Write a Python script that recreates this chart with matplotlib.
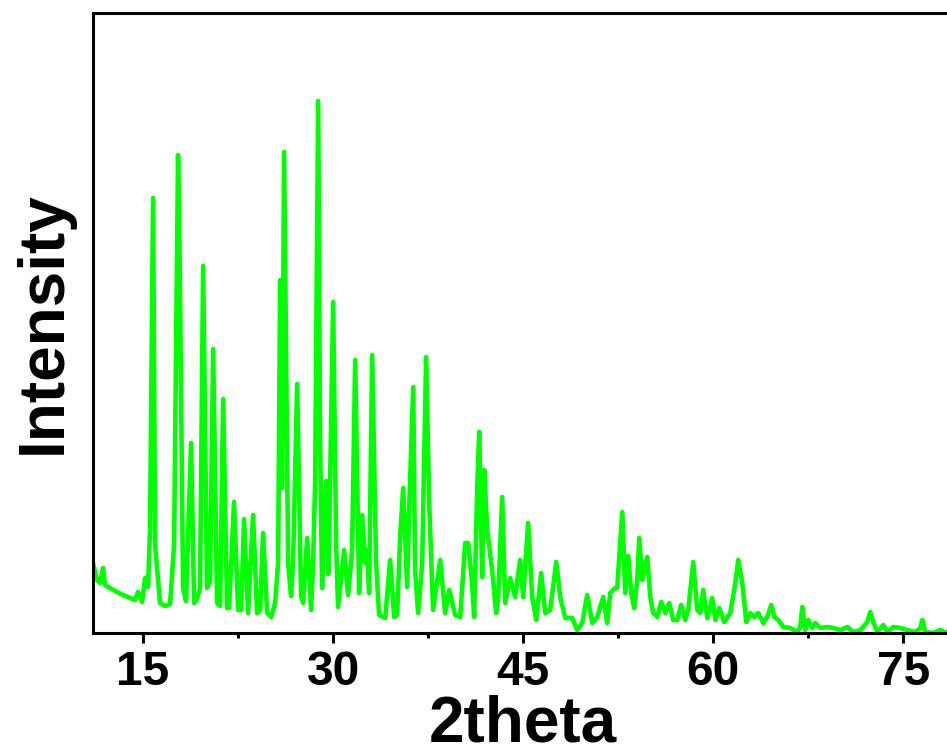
import matplotlib
matplotlib.use("Agg")
import matplotlib.pyplot as plt
from matplotlib.ticker import MultipleLocator

two_theta = [
    11.05, 11.37, 11.61, 11.84, 12.00, 12.39, 12.95, 13.42, 13.97, 14.37,
    14.61, 14.92, 15.16, 15.39,
    15.55, 15.79, 15.95, 16.34, 16.74, 17.13, 17.45, 17.61, 17.76,
    17.84, 18.16, 18.39, 18.79, 19.03, 19.26, 19.50, 19.74, 20.05, 20.29,
    20.53, 20.84, 21.08, 21.32, 21.63, 21.79, 22.18, 22.50, 22.74, 22.97,
    23.29, 23.68, 24.00, 24.24, 24.47, 24.79, 25.11, 25.42, 25.66, 25.82,
    25.97, 26.13, 26.37, 26.45, 26.68, 26.84, 27.16, 27.47, 27.63, 27.95,
    28.26, 28.42, 28.58, 28.82, 28.97, 29.13, 29.21, 29.45, 29.61, 29.68,
    30.00, 30.24, 30.39,
    30.87, 31.18, 31.50, 31.74, 32.05, 32.29, 32.53, 32.68, 32.84, 33.08,
    33.39, 33.63, 34.11, 34.50, 34.82, 35.05, 35.29, 35.53, 35.84, 36.00,
    36.32, 36.47, 36.71, 37.03, 37.34, 37.58, 37.89, 38.45, 38.84, 39.16,
    39.63, 40.03, 40.42, 40.66, 40.97, 41.13, 41.37, 41.53, 41.76, 41.92,
    42.16, 42.55, 42.87, 43.03, 43.34, 43.58, 43.97, 44.37, 44.76, 45.00,
    45.39, 45.71, 46.03, 46.42, 46.74, 47.13, 47.61, 47.92, 48.32, 48.87,
    49.26, 49.66, 50.05, 50.45, 50.84, 51.32, 51.63, 51.87, 52.26, 52.42,
    52.82, 53.05, 53.29,
    53.53, 53.76, 54.00, 54.16, 54.39, 54.79, 55.03, 55.26, 55.58, 55.89,
    56.21, 56.53, 56.84, 57.16, 57.47, 57.79, 58.03, 58.42, 58.74, 58.97,
    59.21, 59.53, 59.92, 60.16, 60.47, 60.87, 61.34, 61.74, 61.97, 62.29,
    62.61, 62.92, 63.24, 63.55, 63.95, 64.26, 64.58, 64.82, 65.13, 65.53,
    66.08, 66.63, 66.87, 67.03, 67.26, 67.50, 67.82, 68.05, 68.45, 69.00,
    69.47, 70.03, 70.58, 71.05, 71.61, 72.16, 72.39, 72.63, 72.95, 73.42,
    73.74, 74.21, 74.76, 75.32, 75.95, 76.34, 76.50, 76.74, 77.37, 77.92,
    78.47,
]
intensity = [
    70, 53, 50, 65, 48, 45, 41, 38, 35, 33,
    41, 31, 55, 46,
    102, 435, 88, 30, 27, 29, 88, 295, 478,
    429, 45, 32, 190, 30, 34, 45, 367, 45, 52,
    284, 30, 27, 234, 25, 25, 131, 23, 23, 114,
    20, 118, 20, 23, 100, 20, 16, 30, 70, 353,
    145, 481, 177, 70, 37, 70, 249, 37, 30, 95,
    23, 70, 150, 532, 195, 45, 88, 152, 59, 88,
    331, 88, 26,
    83, 38, 83, 273, 40, 118, 70, 83, 40, 278,
    70, 18, 15, 73, 16, 18, 96, 145, 46, 123,
    246, 63, 20, 70, 276, 130, 23, 73, 20, 43,
    18, 16, 90, 90, 50, 16, 143, 201, 56, 163,
    103, 63, 20, 36, 136, 30, 55, 36, 73, 36,
    110, 36, 13, 60, 20, 23, 71, 36, 15, 15,
    3, 10, 38, 10, 16, 36, 10, 40, 45, 45,
    121, 40, 77,
    40, 25, 53, 95, 53, 76, 36, 20, 16, 31,
    20, 30, 13, 13, 28, 13, 23, 71, 23, 20,
    43, 15, 35, 13, 25, 11, 20, 50, 73, 50,
    11, 20, 16, 20, 10, 16, 28, 16, 13, 6,
    5, 1, 6, 26, 3, 13, 5, 10, 5, 6,
    5, 3, 6, 1, 3, 11, 21, 11, 1, 8,
    1, 6, 5, 3, 1, 5, 13, 1, 0, 3,
    0,
]

x_ticks = [15, 30, 45, 60, 75]
x_ticklabels = ["15", "30", "45", "60", "75"]

FONT = "Liberation Sans"
W, H = 947, 747
fig = plt.figure(figsize=(W / 100, H / 100), dpi=100)
ax = fig.add_axes([93 / W, (H - 633) / H, (954 - 93) / W, (633 - 13) / H])

ax.plot(two_theta, intensity, color="#00FF00", lw=3.3, solid_joinstyle="round",
        solid_capstyle="round")

ax.set_xlim(11.05, 79)
ax.set_ylim(0, 620)
ax.set_xticks(x_ticks)
ax.set_xticklabels(x_ticklabels)
ax.xaxis.set_minor_locator(MultipleLocator(7.5))
ax.set_yticks([])

for s in ax.spines.values():
    s.set_linewidth(2.2)
    s.set_color("black")
    s.set_zorder(3)

ax.tick_params(axis="x", which="major", direction="out", length=7, width=2.2,
               pad=5.5, labelsize=34.5)
ax.tick_params(axis="x", which="minor", direction="out", length=3.6, width=2.2)
for lab in ax.get_xticklabels():
    lab.set_fontfamily(FONT)
    lab.set_fontweight("bold")

fig.text(44 / W, (H - 323) / H, "Intensity", rotation=90, ha="center",
         va="center", fontsize=46, fontweight="bold", fontfamily=FONT)
fig.text(523 / W, (H - 741) / H, "2theta", ha="center", va="baseline",
         fontsize=46, fontweight="bold", fontfamily=FONT)

fig.savefig("out.png", dpi=100)
